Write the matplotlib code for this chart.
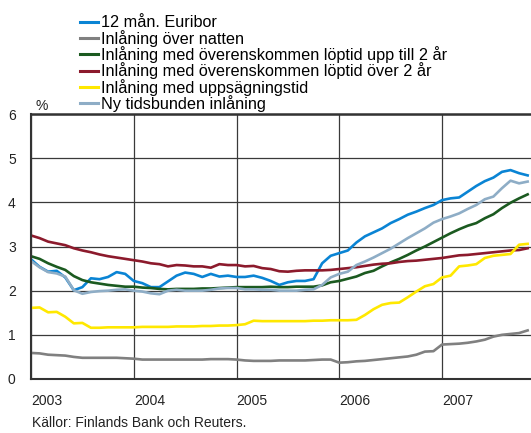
import numpy as np
import matplotlib
matplotlib.use("Agg")
import matplotlib.pyplot as plt

plt.rcParams['font.family'] = ['Liberation Sans', 'DejaVu Sans']

start_year = 2003
year_ticks = [2003, 2004, 2005, 2006, 2007]
y_ticks = [0, 1, 2, 3, 4, 5, 6]

labels = [
    "12 mån. Euribor",
    "Inlåning över natten",
    "Inlåning med överenskommen löptid upp till 2 år",
    "Inlåning med överenskommen löptid över 2 år",
    "Inlåning med uppsägningstid",
    "Ny tidsbunden inlåning",
]
colors = ["#0a84d4", "#808080", "#1b5a20", "#8c1a2c", "#ffe800", "#8eadc6"]

euribor = [2.71, 2.54, 2.43, 2.45, 2.30, 2.01, 2.08, 2.28, 2.26, 2.31, 2.42, 2.38,
           2.22, 2.17, 2.08, 2.08, 2.21, 2.34, 2.41, 2.38, 2.31, 2.38, 2.32, 2.34,
           2.31, 2.31, 2.34, 2.29, 2.22, 2.13, 2.19, 2.22, 2.22, 2.26, 2.62, 2.79,
           2.85, 2.91, 3.09, 3.23, 3.32, 3.41, 3.53, 3.62, 3.72, 3.79, 3.87, 3.94,
           4.05, 4.09, 4.11, 4.24, 4.37, 4.48, 4.56, 4.69, 4.73, 4.66, 4.61]
overnight = [0.59, 0.58, 0.55, 0.54, 0.53, 0.50, 0.48, 0.48, 0.48, 0.48, 0.48, 0.47,
             0.46, 0.44, 0.44, 0.44, 0.44, 0.44, 0.44, 0.44, 0.44, 0.45, 0.45, 0.45,
             0.44, 0.42, 0.41, 0.41, 0.41, 0.42, 0.42, 0.42, 0.42, 0.43, 0.44, 0.44,
             0.37, 0.38, 0.40, 0.41, 0.43, 0.45, 0.47, 0.49, 0.51, 0.55, 0.62, 0.63,
             0.78, 0.79, 0.80, 0.82, 0.85, 0.89, 0.96, 1.00, 1.02, 1.04, 1.10]
upto2 = [2.78, 2.72, 2.62, 2.54, 2.47, 2.33, 2.24, 2.19, 2.16, 2.13, 2.11, 2.09,
         2.09, 2.07, 2.06, 2.04, 2.03, 2.04, 2.04, 2.04, 2.05, 2.05, 2.06, 2.07,
         2.08, 2.08, 2.08, 2.08, 2.09, 2.08, 2.08, 2.09, 2.09, 2.09, 2.12, 2.19,
         2.22, 2.27, 2.32, 2.40, 2.45, 2.55, 2.64, 2.72, 2.81, 2.91, 3.00, 3.10,
         3.20, 3.30, 3.39, 3.47, 3.53, 3.64, 3.73, 3.87, 3.99, 4.09, 4.18]
over2 = [3.25, 3.19, 3.11, 3.07, 3.03, 2.96, 2.91, 2.87, 2.82, 2.78, 2.75, 2.72,
         2.69, 2.66, 2.62, 2.60, 2.55, 2.58, 2.57, 2.55, 2.55, 2.52, 2.60, 2.58,
         2.58, 2.55, 2.56, 2.51, 2.49, 2.44, 2.43, 2.45, 2.46, 2.46, 2.46, 2.47,
         2.49, 2.51, 2.53, 2.56, 2.59, 2.61, 2.62, 2.65, 2.67, 2.68, 2.70, 2.72,
         2.74, 2.77, 2.80, 2.81, 2.83, 2.85, 2.87, 2.89, 2.91, 2.92, 2.96]
notice = [1.61, 1.62, 1.51, 1.52, 1.41, 1.26, 1.27, 1.16, 1.16, 1.17, 1.17, 1.17,
          1.17, 1.18, 1.18, 1.18, 1.18, 1.19, 1.19, 1.19, 1.20, 1.20, 1.21, 1.21,
          1.22, 1.24, 1.32, 1.31, 1.31, 1.31, 1.31, 1.31, 1.31, 1.32, 1.32, 1.33,
          1.33, 1.33, 1.34, 1.45, 1.58, 1.68, 1.72, 1.73, 1.85, 1.98, 2.10, 2.15,
          2.30, 2.34, 2.55, 2.57, 2.60, 2.74, 2.79, 2.81, 2.83, 3.04, 3.06]
new_time = [2.67, 2.53, 2.42, 2.39, 2.32, 2.01, 1.93, 1.97, 1.99, 2.00, 2.02, 2.03,
            2.00, 1.98, 1.94, 1.92, 2.00, 2.02, 2.00, 2.00, 2.00, 2.02, 2.05, 2.06,
            2.06, 2.03, 2.03, 2.02, 2.02, 2.00, 2.00, 2.00, 2.02, 2.03, 2.13, 2.30,
            2.38, 2.43, 2.58, 2.66, 2.75, 2.85, 2.95, 3.07, 3.19, 3.30, 3.41, 3.54,
            3.62, 3.68, 3.75, 3.85, 3.94, 4.07, 4.13, 4.32, 4.49, 4.43, 4.47]

series = [euribor, overnight, upto2, over2, notice, new_time]

fig = plt.figure(figsize=(5.31, 4.33), dpi=100)
ax = fig.add_axes([31/531, 1 - 379/433, 500/531, (379 - 114)/433])

for vals, lab, col in zip(series, labels, colors):
    x = start_year + np.arange(len(vals)) / 12.0
    ax.plot(x, vals, color=col, lw=1.9, label=lab, solid_joinstyle='round')

ax.set_xlim(2003, 2007.866)
ax.set_ylim(0, 6)
ax.set_yticks(y_ticks)
ax.set_xticks(year_ticks)
ax.set_xticklabels([str(y) for y in year_ticks], ha='left')
ax.tick_params(axis='both', length=0, labelsize=10, colors='#222222')
ax.tick_params(axis='y', pad=11)
ax.tick_params(axis='x', pad=11)
ax.grid(True, color='#3a3a3a', lw=0.9)
ax.set_axisbelow(True)
for s in ['left', 'bottom', 'top']:
    ax.spines[s].set_color('#333333')
    ax.spines[s].set_linewidth(1.5)
ax.spines['top'].set_linewidth(1.8)
ax.spines['right'].set_visible(False)

fig.text(35.5/531, 1 - 106.5/433, "%", fontsize=10, ha='left', va='center', color='#222222')

leg = fig.legend(loc='upper left', bbox_to_anchor=(80/531, 1 - 15.3/433), frameon=False,
                 fontsize=11.7, handlelength=1.1, handletextpad=0.2, labelspacing=-0.04,
                 borderaxespad=0, borderpad=0)
for line in leg.get_lines():
    line.set_linewidth(2.2)

fig.text(32.5/531, 1 - 423/433, "Källor: Finlands Bank och Reuters.", fontsize=10,
         ha='left', va='center', color='#222222')

fig.savefig("out.png", dpi=100)
